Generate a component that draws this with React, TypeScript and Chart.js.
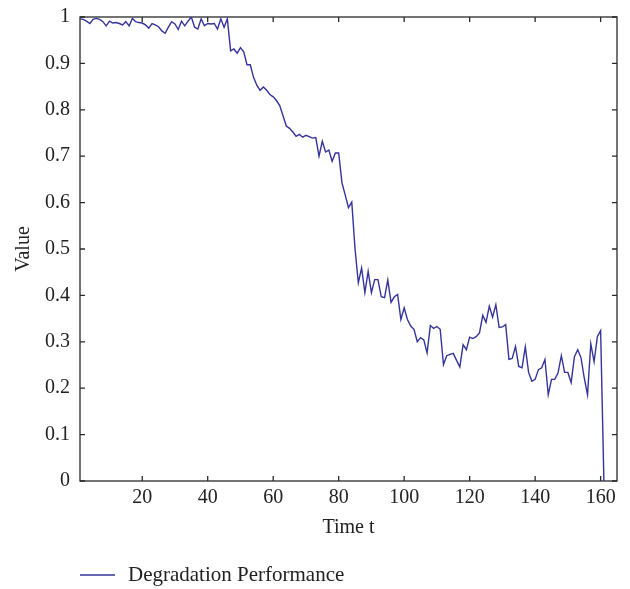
import React, { useEffect, useRef } from "react";
import { Chart, registerables } from "chart.js";

Chart.register(...registerables);

const degradation: number[] = [
  0.996, 0.995, 0.991, 0.986, 0.995, 0.997, 0.995, 0.99, 0.981, 0.991,
  0.987, 0.988, 0.986, 0.983, 0.99, 0.981, 0.997, 0.99, 0.988, 0.987,
  0.983, 0.976, 0.986, 0.983, 0.979, 0.97, 0.965, 0.978, 0.99, 0.985,
  0.973, 0.991, 0.981, 0.991, 1.0, 0.978, 0.974, 0.996, 0.981, 0.986,
  0.985, 0.986, 0.974, 0.996, 0.978, 0.996, 0.927, 0.931, 0.922, 0.934,
  0.925, 0.897, 0.897, 0.87, 0.853, 0.842, 0.849, 0.842, 0.833, 0.828,
  0.82, 0.809, 0.787, 0.765, 0.76, 0.752, 0.743, 0.747, 0.741, 0.745,
  0.742, 0.739, 0.74, 0.7, 0.732, 0.709, 0.713, 0.689, 0.707, 0.707,
  0.643, 0.616, 0.589, 0.601, 0.5, 0.427, 0.459, 0.406, 0.452, 0.406,
  0.434, 0.434, 0.397, 0.395, 0.433, 0.385, 0.397, 0.402, 0.348, 0.373,
  0.348, 0.334, 0.327, 0.3, 0.309, 0.304, 0.276, 0.335, 0.329, 0.333,
  0.327, 0.251, 0.27, 0.273, 0.275, 0.26, 0.246, 0.294, 0.283, 0.31,
  0.307, 0.311, 0.319, 0.357, 0.342, 0.377, 0.353, 0.38, 0.331, 0.332,
  0.337, 0.262, 0.264, 0.29, 0.247, 0.244, 0.289, 0.234, 0.215, 0.219,
  0.24, 0.244, 0.262, 0.186, 0.219, 0.219, 0.233, 0.27, 0.234, 0.234,
  0.212, 0.268, 0.283, 0.266, 0.222, 0.186, 0.296, 0.257, 0.311, 0.324,
  0,
];

const xTicks: number[] = [20, 40, 60, 80, 100, 120, 140, 160];
const yTicks: number[] = [0, 0.1, 0.2, 0.3, 0.4, 0.5, 0.6, 0.7, 0.8, 0.9, 1];
const seriesLabel = "Degradation Performance";
const xTitle = "Time t";
const yTitle = "Value";

const FONT_FAMILY = "'Liberation Serif', 'Times New Roman', serif";
const LINE_COLOR = "#34339a";
const TEXT_COLOR = "#222222";
const FRAME_COLOR = "#2a2a2a";

const framePlugin = {
  id: "frameTicks",
  beforeDatasetsDraw(chart: any) {
    const { ctx, chartArea, scales } = chart;
    const { left, right, top, bottom } = chartArea;
    ctx.save();
    ctx.strokeStyle = FRAME_COLOR;
    ctx.lineWidth = 1.3;
    ctx.strokeRect(left, top, right - left, bottom - top);
    const len = 5;
    ctx.beginPath();
    for (const v of xTicks) {
      const px = scales.x.getPixelForValue(v);
      ctx.moveTo(px, bottom);
      ctx.lineTo(px, bottom - len);
      ctx.moveTo(px, top);
      ctx.lineTo(px, top + len);
    }
    for (const v of yTicks) {
      const py = scales.y.getPixelForValue(v);
      ctx.moveTo(left, py);
      ctx.lineTo(left + len, py);
      ctx.moveTo(right, py);
      ctx.lineTo(right - len, py);
    }
    ctx.stroke();
    ctx.restore();
  },
  afterDraw(chart: any) {
    const { ctx, chartArea } = chart;
    const y = 575;
    const x0 = chartArea.left;
    ctx.save();
    ctx.strokeStyle = LINE_COLOR;
    ctx.lineWidth = 1.3;
    ctx.beginPath();
    ctx.moveTo(x0, y);
    ctx.lineTo(x0 + 35, y);
    ctx.stroke();
    ctx.fillStyle = TEXT_COLOR;
    ctx.font = `21px ${FONT_FAMILY}`;
    ctx.textBaseline = "middle";
    ctx.textAlign = "left";
    ctx.fillText(seriesLabel, x0 + 48, y);
    ctx.restore();
  },
};

export default function App() {
  const ref = useRef<HTMLCanvasElement | null>(null);

  useEffect(() => {
    if (!ref.current) return;
    const font = { family: FONT_FAMILY, size: 20 };
    const chart = new Chart(ref.current, {
      type: "line",
      data: {
        datasets: [
          {
            label: seriesLabel,
            data: degradation.map((v, i) => ({ x: i + 1, y: v })),
            borderColor: LINE_COLOR,
            borderWidth: 1.4,
            pointRadius: 0,
            tension: 0,
            fill: false,
          },
        ],
      },
      options: {
        responsive: false,
        animation: false,
        layout: { padding: { top: 17, right: 13, left: 0, bottom: 0 } },
        plugins: {
          legend: { display: false },
          tooltip: { enabled: false },
        },
        scales: {
          x: {
            type: "linear",
            min: 1,
            max: 165,
            afterBuildTicks: (s: any) => {
              s.ticks = xTicks.map((v) => ({ value: v }));
            },
            afterFit: (s: any) => {
              s.height = 108;
              s.paddingLeft = 0;
              s.paddingRight = 0;
            },
            grid: { display: false, drawTicks: false },
            border: { display: false },
            ticks: {
              font,
              color: TEXT_COLOR,
              padding: 5,
              maxRotation: 0,
              autoSkip: false,
            },
            title: {
              display: true,
              text: xTitle,
              font,
              color: TEXT_COLOR,
              padding: { top: 0, bottom: 49 },
            },
          },
          y: {
            type: "linear",
            min: 0,
            max: 1,
            afterBuildTicks: (s: any) => {
              s.ticks = yTicks.map((v) => ({ value: v }));
            },
            afterFit: (s: any) => {
              s.width = 80;
              s.paddingTop = 0;
              s.paddingBottom = 0;
            },
            grid: { display: false, drawTicks: false },
            border: { display: false },
            ticks: {
              font,
              color: TEXT_COLOR,
              padding: 10,
              autoSkip: false,
              callback: (v: any) => String(Number(Number(v).toFixed(1))),
            },
            title: {
              display: true,
              text: yTitle,
              font,
              color: TEXT_COLOR,
              padding: { top: 12, bottom: 0 },
            },
          },
        },
      },
      plugins: [framePlugin],
    });
    return () => chart.destroy();
  }, []);

  return (
    <div style={{ position: "fixed", left: 0, top: 0, width: 630, height: 589, background: "#fff" }}>
      <canvas ref={ref} width={630} height={589} style={{ width: 630, height: 589, display: "block" }} />
    </div>
  );
}
